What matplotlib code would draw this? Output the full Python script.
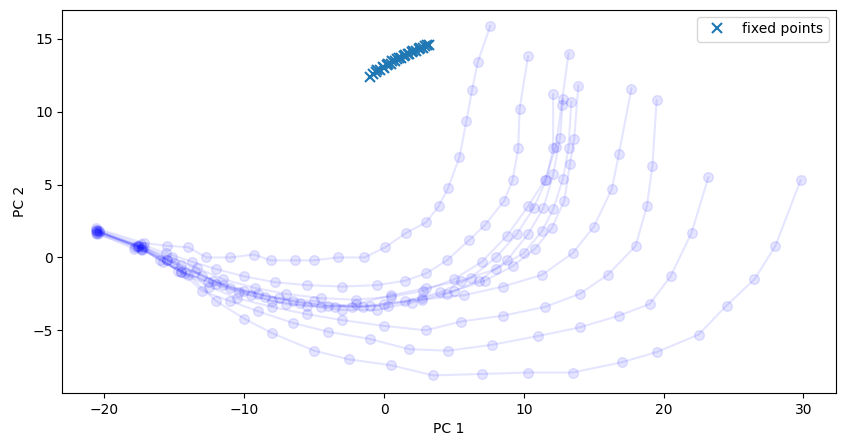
import matplotlib
matplotlib.use("Agg")
import matplotlib.pyplot as plt

traj_1 = [(-20.6,2.0),(-17.2,1.0),(-15.5,0.8),(-14,0.7),(-12.7,0),(-11,0),(-9.3,0.2),(-8.1,-0.2),(-6.4,-0.2),(-5,-0.2),(-3.3,0),(-1.4,0.0),(0.1,0.7),(1.6,1.7),(3.0,2.4),(3.9,3.5),(4.6,4.8),(5.4,6.9),(5.9,9.4),(6.3,11.5),(6.7,13.4),(7.6,15.9)]
traj_2 = [(-20.5,1.9),(-17.4,0.9),(-15.6,0.3),(-13.7,-0.3),(-12,-0.8),(-10,-1.3),(-7.8,-1.7),(-5.5,-1.9),(-3,-2),(-0.5,-1.9),(1.5,-1.6),(3,-1.1),(4.5,-0.2),(6.1,1.2),(7.2,2.2),(8.6,3.9),(9.2,5.3),(9.6,7.5),(9.7,10.2),(10.3,13.8)]
traj_3 = [(-20.4,1.8),(-17.6,0.8),(-15.2,0),(-13.4,-0.7),(-11.5,-1.5),(-9.2,-2.1),(-7,-2.5),(-4.5,-2.8),(-2,-2.9),(0.5,-2.7),(2.8,-2.3),(5,-1.5),(7,-0.3),(8.8,1.5),(10.3,3.5),(11.5,5.3),(12.3,7.6),(12.7,10.5),(13.2,14.0)]
traj_4 = [(-20.5,1.7),(-17.3,0.7),(-15,-0.4),(-13,-1.3),(-11,-2.1),(-8.5,-2.7),(-6,-3.1),(-3.5,-3.4),(-1,-3.3),(1.5,-3),(4,-2.4),(6.2,-1.4),(8,0),(9.5,1.6),(10.7,3.4),(11.6,5.3),(12.1,7.5),(12.1,11.2)]
traj_5 = [(-20.6,1.8),(-17.5,0.8),(-14.7,-0.9),(-12.6,-1.7),(-10.4,-2.4),(-8,-3),(-5.5,-3.3),(-3,-3.6),(-0.5,-3.6),(2,-3.1),(4.5,-2.5),(6.8,-1.6),(8.8,-0.2),(10.3,1.6),(11.4,3.4),(12.1,5.7),(12.6,8.2),(12.8,10.9)]
traj_6 = [(-20.4,1.7),(-17.2,0.7),(-14.5,-0.5),(-12.2,-1.6),(-10,-2.3),(-7.5,-2.8),(-5,-3),(-2.3,-3.4),(0.3,-3.3),(2.7,-2.8),(5,-2.3),(7.2,-1.6),(9.2,-0.6),(10.8,0.6),(12,2),(12.9,3.9),(13.3,6.4),(13.6,8.1),(13.9,11.8)]
traj_7 = [(-20.5,1.8),(-17.4,0.6),(-14.2,-1.1),(-12,-1.8),(-9.5,-2.6),(-7,-3.2),(-4.5,-3.4),(-2,-3.2),(0.5,-2.6),(3,-2.1),(5.5,-1.6),(8,-0.8),(10,0.3),(11.3,1.8),(12.1,3.3),(12.8,5.4),(13.2,7.5),(13.4,10.7)]
traj_8 = [(-20.6,1.9),(-17.7,0.8),(-15.5,-0.2),(-13.5,-1),(-11.5,-1.9),(-9,-2.5),(-6.5,-3),(-4,-3.3),(-1.5,-3.4),(0,-3.2),(2.7,-2.9),(5.7,-2.6),(8.5,-2),(11.3,-1.2),(13.5,0.3),(15,2.1),(16.3,4.7),(16.8,7.1),(17.7,11.6)]
traj_9 = [(-20.5,1.6),(-17.6,0.7),(-16,-0.2),(-14.5,-1),(-12.5,-2),(-10.5,-2.8),(-8,-3.4),(-5.5,-3.9),(-3,-4.3),(0,-4.7),(3,-5),(5.5,-4.4),(8.5,-4),(11.5,-3.4),(14,-2.5),(16,-1.2),(18,0.8),(18.8,3.5),(19.2,6.3),(19.5,10.8)]
traj_10 = [(-20.4,1.8),(-17.8,0.7),(-17.3,0.6),(-15.8,-0.3),(-14.5,-1),(-13,-2.3),(-11,-3),(-9,-3.7),(-6.5,-4.5),(-4,-5.1),(-1,-5.6),(1.8,-6.3),(4.6,-6.4),(7.7,-6),(11,-5.4),(14,-4.8),(16.8,-4),(19,-3.2),(20.5,-1.3),(22,1.7),(23.2,5.5)]
traj_11 = [(-20.6,1.7),(-17.9,0.6),(-17.3,0.5),(-15.5,-0.2),(-14,-1.2),(-12,-3),(-10,-4.2),(-8,-5.2),(-5,-6.4),(-2.5,-7),(0.5,-7.4),(3.5,-8.1),(7,-8),(10.3,-7.9),(13.5,-7.9),(17,-7.2),(19.5,-6.5),(22.5,-5.3),(24.5,-3.3),(26.5,-1.5),(28,0.8),(29.8,5.3)]
trajectories = [traj_1, traj_2, traj_3, traj_4, traj_5, traj_6, traj_7, traj_8, traj_9, traj_10, traj_11]

fixed_x = [-1.0,-0.8,-0.6,-0.5,-0.3,-0.1,0.0,0.2,0.3,0.5,0.6,0.8,0.9,1.1,1.2,1.4,1.5,1.7,1.8,2.0,2.1,2.3,2.5,2.6,2.8,2.9,3.1,3.2]
fixed_y = [12.4,12.6,12.7,12.9,12.9,13.1,13.0,13.2,13.3,13.3,13.5,13.5,13.6,13.7,13.7,13.8,13.9,14.0,14.0,14.1,14.2,14.2,14.3,14.4,14.4,14.5,14.6,14.6]

fig = plt.figure(figsize=(8.44, 4.48), dpi=100)
ax = fig.add_axes([0.074, 0.123, 0.916, 0.855])
for t in trajectories:
    xs = [p[0] for p in t]
    ys = [p[1] for p in t]
    ax.plot(xs, ys, 'o-', color='blue', alpha=0.1, markersize=7)
ax.plot(fixed_x, fixed_y, 'x', color='C0', markersize=7, markeredgewidth=1.5, label='fixed points')
ax.set_xlim(-23, 32.3)
ax.set_ylim(-9.3, 17.0)
ax.set_xticks([-20, -10, 0, 10, 20, 30])
ax.set_yticks([-5, 0, 5, 10, 15])
ax.set_xlabel('PC 1')
ax.set_ylabel('PC 2')
ax.legend(loc='upper right')
fig.savefig('out.png', dpi=100)
